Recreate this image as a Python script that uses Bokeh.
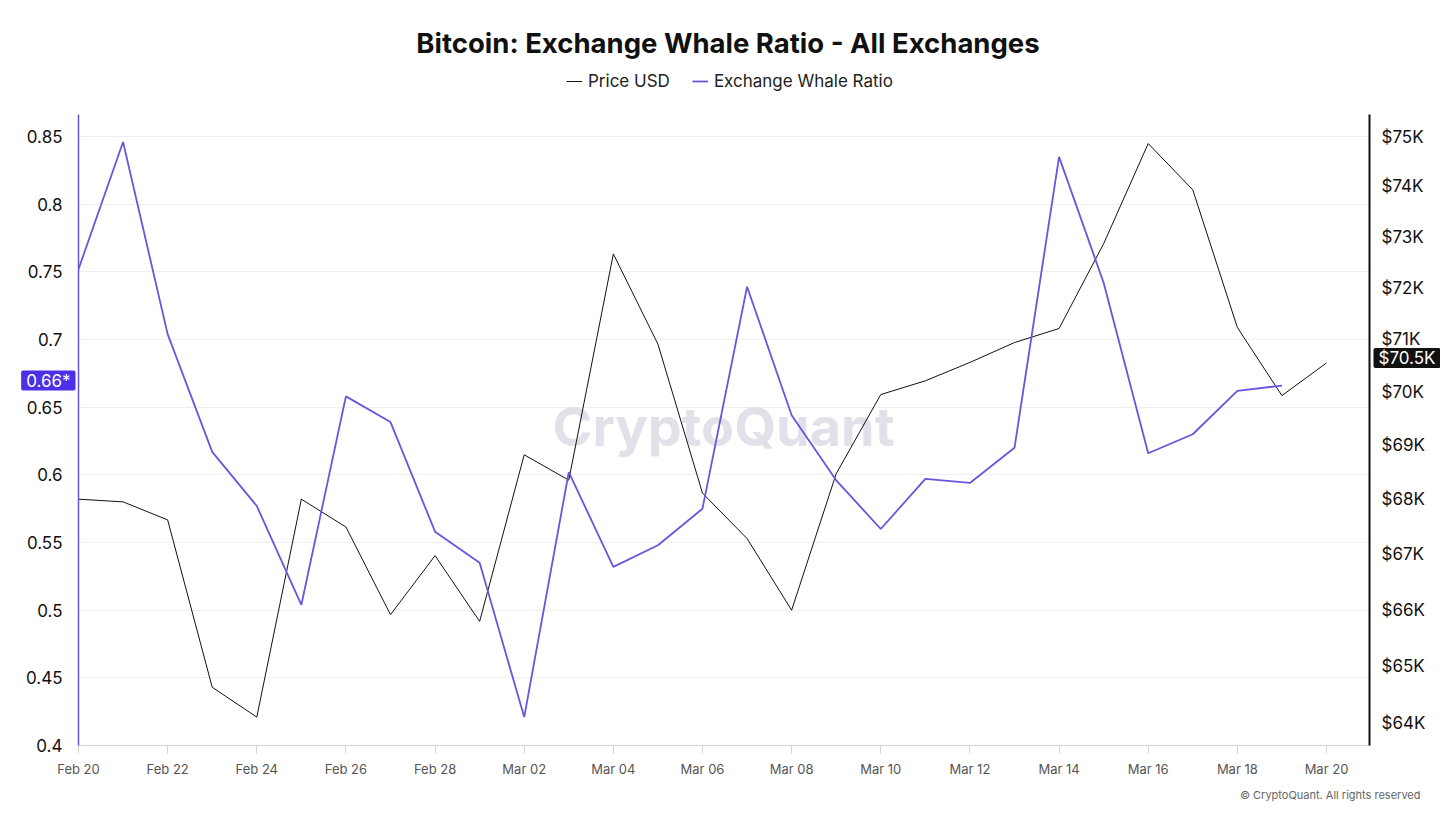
from bokeh.plotting import figure
from bokeh.layouts import column
from bokeh.models import (Range1d, LogScale, LogAxis, FixedTicker, Label,
                          Legend, LegendItem, ColumnDataSource)
from bokeh.embed import file_html
from bokeh.resources import INLINE

# ---------------- data ----------------
dates = ["Feb 20", "Feb 21", "Feb 22", "Feb 23", "Feb 24", "Feb 25", "Feb 26", "Feb 27",
         "Feb 28", "Mar 01", "Mar 02", "Mar 03", "Mar 04", "Mar 05", "Mar 06", "Mar 07",
         "Mar 08", "Mar 09", "Mar 10", "Mar 11", "Mar 12", "Mar 13", "Mar 14", "Mar 15",
         "Mar 16", "Mar 17", "Mar 18", "Mar 19", "Mar 20"]
price_usd_k = [68.00, 67.95, 67.62, 64.63, 64.11, 68.00, 67.49, 65.91, 66.97, 65.79,
               68.82, 68.35, 72.66, 70.91, 68.11, 67.28, 65.99, 68.47, 69.95, 70.21,
               70.56, 70.94, 71.21, 72.86, 74.86, 73.93, 71.23, 69.93, 70.55]
whale_ratio = [0.752, 0.846, 0.704, 0.617, 0.577, 0.504, 0.658, 0.639, 0.558, 0.535,
               0.421, 0.602, 0.532, 0.548, 0.575, 0.739, 0.644, 0.596, 0.560, 0.597,
               0.594, 0.620, 0.835, 0.742, 0.616, 0.630, 0.662, 0.666]
x_tick_labels = ["Feb 20", "Feb 22", "Feb 24", "Feb 26", "Feb 28", "Mar 02", "Mar 04",
                 "Mar 06", "Mar 08", "Mar 10", "Mar 12", "Mar 14", "Mar 16", "Mar 18", "Mar 20"]
ratio_ticks = [0.4, 0.45, 0.5, 0.55, 0.6, 0.65, 0.7, 0.75, 0.8, 0.85]
ratio_tick_labels = ["0.4", "0.45", "0.5", "0.55", "0.6", "0.65", "0.7", "0.75", "0.8", "0.85"]
price_ticks = [64, 65, 66, 67, 68, 69, 70, 71, 72, 73, 74, 75]
price_tick_labels = ["$64K", "$65K", "$66K", "$67K", "$68K", "$69K", "$70K", "$71K",
                     "$72K", "$73K", "$74K", "$75K"]
title_text = "Bitcoin: Exchange Whale Ratio - All Exchanges"
series_names = ["Price USD", "Exchange Whale Ratio"]
ratio_badge = "0.66*"
price_badge = "$70.5K"
footer_text = "\u00a9 CryptoQuant. All rights reserved"

PURPLE = "#6656E0"
BADGE_PURPLE = "#4B30E6"
BLACK = "#111111"
FONT = "Inter"

x_price = list(range(len(price_usd_k)))
x_ratio = list(range(len(whale_ratio)))
tick_idx = [dates.index(d) for d in x_tick_labels]

# ---------------- layout geometry (page pixels) ----------------
W, PAGE_H = 1440, 819
FRAME_L, FRAME_R, FRAME_T, FRAME_B = 78, 1369, 114, 745
HEAD_H = 91
MT = FRAME_T - HEAD_H
MB = PAGE_H - FRAME_B
MAIN_H = PAGE_H - HEAD_H
ML, MR = FRAME_L, W - FRAME_R
FH = FRAME_B - FRAME_T
Y0, Y1 = 0.4, 0.8663
P0, P1 = 63.62, 75.45

src_p = ColumnDataSource(dict(x=x_price, y=price_usd_k))
src_r = ColumnDataSource(dict(x=x_ratio, y=whale_ratio))

# ---------------- header: title + legend ----------------
head = figure(width=W, height=HEAD_H, output_backend="svg", toolbar_location=None,
              x_range=Range1d(FRAME_L, FRAME_R), y_range=Range1d(0, HEAD_H),
              x_axis_type=None, y_axis_type=None,
              min_border_left=ML, min_border_right=MR, min_border_top=0, min_border_bottom=0)
head.outline_line_color = None
head.xgrid.visible = False
head.ygrid.visible = False
head.add_layout(Label(x=727.5, y=HEAD_H - 42, text=title_text, text_align="center",
                      text_baseline="middle", text_font=FONT, text_font_size="27.5px",
                      text_font_style="bold", text_color=BLACK))
# legend swatch renderers (the series lie outside this strip's visible x range)
lp = head.line("x", "y", source=src_p, line_color=BLACK, line_width=1)
lr = head.line("x", "y", source=src_r, line_color=PURPLE, line_width=1.8)
leg = Legend(items=[LegendItem(label=series_names[0], renderers=[lp]),
                    LegendItem(label=series_names[1], renderers=[lr])],
             location=(566 - FRAME_L, HEAD_H - 91), orientation="horizontal",
             border_line_color=None, background_fill_alpha=0,
             padding=0, margin=0, spacing=22, glyph_width=16, glyph_height=16,
             label_height=16, label_standoff=6,
             label_text_font=FONT, label_text_font_size="17px", label_text_color="#222222")
head.add_layout(leg, "center")

# ---------------- main chart ----------------
p = figure(width=W, height=MAIN_H, output_backend="svg", toolbar_location=None,
           x_range=Range1d(0, 28.965), y_range=Range1d(Y0, Y1),
           min_border_left=ML, min_border_right=MR, min_border_top=MT, min_border_bottom=MB)
p.outline_line_color = None
p.extra_y_ranges = {"price": Range1d(P0, P1)}
p.extra_y_scales = {"price": LogScale()}

p.xgrid.visible = False
p.ygrid.ticker = FixedTicker(ticks=ratio_ticks)
p.ygrid.grid_line_color = "#efefef"

xa = p.xaxis[0]
xa.ticker = FixedTicker(ticks=tick_idx)
xa.major_label_overrides = {i: lab for i, lab in zip(tick_idx, x_tick_labels)}
xa.axis_line_color = "#d4d4d4"
xa.major_tick_line_color = "#d4d4d4"
xa.major_tick_out = 8
xa.major_tick_in = 0
xa.minor_tick_line_color = None
xa.major_label_standoff = 7
xa.major_label_text_font = FONT
xa.major_label_text_font_size = "13px"
xa.major_label_text_color = "#555555"

ya = p.yaxis[0]
ya.ticker = FixedTicker(ticks=ratio_ticks)
ya.major_label_overrides = {t: s for t, s in zip(ratio_ticks, ratio_tick_labels)}
ya.axis_line_color = PURPLE
ya.axis_line_width = 1.5
ya.major_tick_line_color = None
ya.minor_tick_line_color = None
ya.major_label_standoff = 10
ya.major_label_text_font = FONT
ya.major_label_text_font_size = "17px"
ya.major_label_text_color = BLACK

ra = LogAxis(y_range_name="price", ticker=FixedTicker(ticks=price_ticks))
ra.major_label_overrides = {t: s for t, s in zip(price_ticks, price_tick_labels)}
ra.axis_line_color = BLACK
ra.axis_line_width = 2
ra.major_tick_line_color = None
ra.minor_tick_line_color = None
ra.major_label_standoff = 6
ra.major_label_text_font = FONT
ra.major_label_text_font_size = "17px"
ra.major_label_text_color = BLACK
p.add_layout(ra, "right")

p.add_layout(Label(x=14.47, y=0.636, text="CryptoQuant", text_align="center",
                   text_baseline="middle", text_font=FONT, text_font_size="54px",
                   text_font_style="bold", text_color="#e1e2e9", level="underlay"))

p.line("x", "y", source=src_p, y_range_name="price", line_color=BLACK, line_width=1)
p.line("x", "y", source=src_r, line_color=PURPLE, line_width=1.8)


# texts outside the frame live in side panels (centre annotations are clipped to the frame)
def badge(**kw):
    base = dict(text_baseline="middle", text_font=FONT, text_font_size="17px",
                text_color="white", border_radius=2, y_offset=5, x_units="canvas")
    base.update(kw)
    try:
        return Label(padding=(5, 0), **base)
    except Exception:
        fill = base["background_fill_color"]
        return Label(padding=0, border_line_color=fill, border_line_width=3, **base)


p.add_layout(badge(x=1373, y=price_usd_k[-1], y_range_name="price", text=price_badge,
                   text_align="left", background_fill_color=BLACK), "above")
p.add_layout(badge(x=75, y=whale_ratio[-1], text=ratio_badge, text_align="right",
                   background_fill_color=BADGE_PURPLE), "below")
footer_y = Y0 - (794 - FRAME_B) * (Y1 - Y0) / FH
p.add_layout(Label(x=1420, x_units="canvas", y=footer_y, text=footer_text,
                   text_align="right", text_baseline="middle", text_font=FONT,
                   text_font_size="11px", text_color="#666666"), "below")

layout = column(head, p, spacing=0)
open("out.html", "w").write(file_html(layout, INLINE))
